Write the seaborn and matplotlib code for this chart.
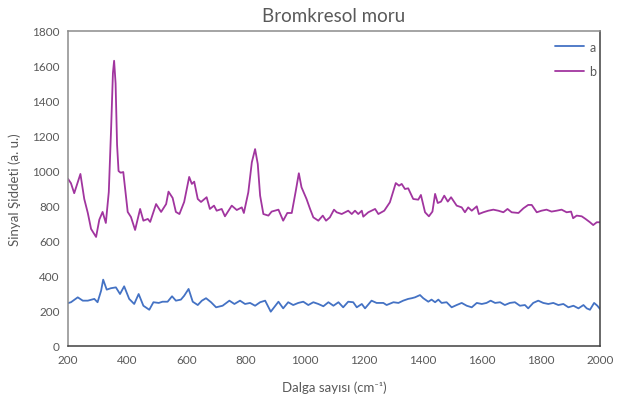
import pandas as pd
import seaborn as sns
import matplotlib.pyplot as plt

# spectrum a (blue)
a_x = [200, 210, 233, 250, 267, 289, 300, 312, 319, 331, 345, 362, 376, 390, 407, 424, 439, 455, 475, 489,
       507, 520, 537, 552, 565, 582, 593, 608, 622, 639, 653, 667, 684, 701, 723, 746, 763, 782, 799, 816,
       833, 850, 867, 886, 912, 928, 945, 962, 979, 996, 1013, 1030, 1047, 1064, 1081, 1098, 1115, 1131,
       1148, 1165, 1177, 1194, 1205, 1227, 1244, 1267, 1278, 1301, 1318, 1334, 1351, 1363, 1374, 1391,
       1402, 1419, 1430, 1442, 1453, 1464, 1481, 1498, 1515, 1532, 1549, 1566, 1583, 1600, 1616, 1630,
       1645, 1662, 1678, 1695, 1712, 1729, 1746, 1757, 1774, 1791, 1808, 1825, 1842, 1859, 1876, 1893,
       1910, 1927, 1944, 1955, 1966, 1980, 1991, 2000]
a_y = [245, 250, 278, 259, 259, 269, 250, 316, 379, 322, 330, 335, 297, 341, 269, 240, 297, 230, 207, 250,
       246, 253, 253, 284, 259, 265, 287, 326, 253, 234, 259, 273, 250, 221, 230, 259, 240, 259, 240, 246,
       230, 250, 259, 196, 253, 215, 250, 234, 246, 253, 234, 250, 240, 227, 250, 230, 250, 221,
       253, 250, 221, 240, 215, 259, 246, 246, 234, 250, 246, 259, 269, 273, 278, 291,
       273, 253, 265, 250, 265, 246, 250, 221, 234, 246, 230, 221, 246, 240, 246, 259,
       246, 250, 234, 246, 250, 230, 234, 215, 246, 259, 246, 240, 246, 234, 240, 221,
       230, 215, 234, 215, 207, 246, 230, 211]

# spectrum b (purple)
b_x = [200, 210, 221, 242, 255, 267, 278, 295, 306, 317, 328, 338, 346, 352, 356, 361, 366, 371, 378, 387, 402, 413,
       427, 444, 455, 470, 478, 498, 515, 532, 540, 554, 565, 577, 593, 610, 619, 627, 639, 650, 669, 680,
       694, 703, 720, 731, 754, 771, 788, 795, 810, 822, 833, 842, 850, 861, 878, 889, 912, 928, 942, 957,
       970, 981, 990, 1007, 1019, 1030, 1047, 1062, 1073, 1086, 1100, 1109, 1126, 1148, 1160, 1171, 1182,
       1194, 1199, 1216, 1239, 1250, 1270, 1289, 1309, 1320, 1329, 1340, 1351, 1368, 1385, 1394, 1408,
       1421, 1433, 1442, 1451, 1462, 1473, 1485, 1496, 1515, 1532, 1543, 1554, 1566, 1583, 1590, 1605,
       1622, 1639, 1656, 1673, 1687, 1701, 1724, 1741, 1757, 1769, 1786, 1802, 1819, 1836, 1853, 1870,
       1887, 1902, 1909, 1921, 1938, 1951, 1966, 1977, 1989, 2000]
b_y = [955, 930, 873, 983, 840, 760, 669, 623, 722, 766, 703, 880, 1250, 1560, 1630, 1500, 1150, 1000, 990, 994, 766, 737,
       663, 783, 716, 726, 709, 811, 766, 811, 882, 846, 766, 754, 823, 966, 926, 939, 840, 823, 850, 783,
       802, 773, 783, 741, 802, 777, 792, 760, 878, 1050, 1125, 1040, 859, 754, 745, 768, 779, 716, 760, 760,
       880, 987, 907, 840, 783, 735, 716, 745, 716, 735, 779, 764, 754, 773, 754, 773, 754,
       773, 739, 764, 783, 754, 773, 821, 931, 916, 926, 897, 901, 840, 836, 863, 764,
       741, 768, 869, 817, 825, 859, 825, 850, 802, 792, 764, 792, 773, 798, 754, 764,
       773, 779, 773, 764, 783, 764, 760, 787, 806, 806, 764, 773, 779, 768, 773, 779,
       764, 768, 730, 745, 741, 726, 707, 691, 707, 707]

x_ticks = list(range(200, 2001, 200))
y_ticks = list(range(0, 1801, 200))

sns.set_style("white")
plt.rcParams['font.family'] = ['Lato', 'DejaVu Sans']
gray = '#595959'

fig = plt.figure(figsize=(6.32, 4.10), dpi=100)
ax = fig.add_axes([0.1076, 0.1537, 0.8418, 0.7683])

sns.lineplot(x=a_x, y=a_y, ax=ax, color='#4472C4', lw=1.3, label='a', sort=False)
sns.lineplot(x=b_x, y=b_y, ax=ax, color='#A1359F', lw=1.3, label='b', sort=False)

ax.set_xlim(200, 2000)
ax.set_ylim(0, 1800)
ax.set_xticks(x_ticks)
ax.set_yticks(y_ticks)
ax.tick_params(length=0, labelsize=8.5, labelcolor=gray, pad=6)

for side in ['left', 'top']:
    ax.spines[side].set_color('#8c8c8c')
for side in ['right', 'bottom']:
    ax.spines[side].set_color('#404040')
for s in ax.spines.values():
    s.set_linewidth(1.1)

ax.set_title('Bromkresol moru', fontsize=13.5, color=gray, pad=7)
ax.set_xlabel('Dalga sayısı (cm⁻¹)', fontsize=9.5, color=gray, labelpad=11)
ax.set_ylabel('Sinyal Şiddeti (a. u.)', fontsize=9.5, color=gray, labelpad=8)

leg = ax.legend(loc='upper left', bbox_to_anchor=(0.895, 1.005), frameon=False,
                fontsize=9, handlelength=2.3, labelspacing=1.0, handletextpad=0.4)
for t in leg.get_texts():
    t.set_color(gray)

fig.savefig('out.png', dpi=100)
